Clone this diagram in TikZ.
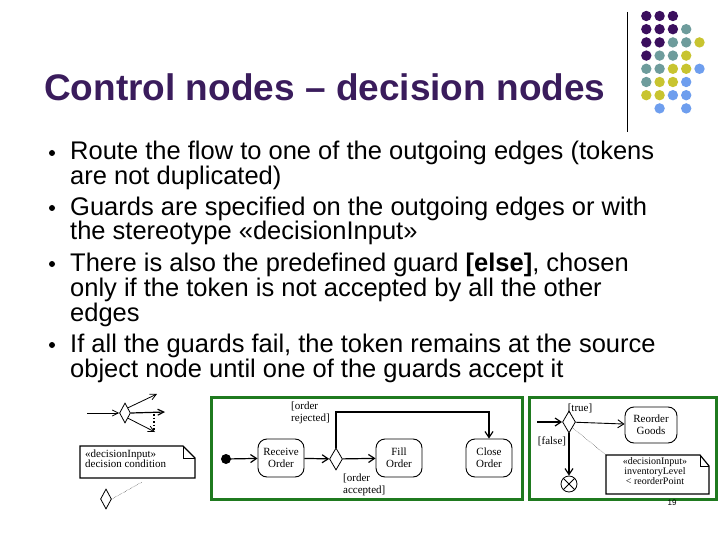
\documentclass[tikz,border=0pt]{standalone}
\usepackage{fontspec}
\setmainfont{Liberation Sans}
\newfontfamily\serifx{Liberation Serif}
\usetikzlibrary{shapes.geometric,arrows.meta}
\definecolor{tpurple}{HTML}{3A1C5C}
\definecolor{dP}{HTML}{3B0F5E}
\definecolor{dT}{HTML}{6E9C9C}
\definecolor{dY}{HTML}{C8C430}
\definecolor{dB}{HTML}{6E9EEE}
\definecolor{gbox}{HTML}{1F7A1F}
\tikzset{
 txt/.style={anchor=base west,inner sep=0,font=\fontsize{25.5}{25}\selectfont},
 bul/.style={circle,fill=black,inner sep=0,minimum size=6},
 act/.style={draw,rounded corners=9,line width=0.9,minimum width=46,minimum height=38,align=center,font=\serifx\fontsize{11}{12}\selectfont},
 dec/.style={draw,diamond,aspect=0.6,inner sep=0,minimum width=13,minimum height=22,line width=0.8},
 lab/.style={font=\serifx\fontsize{11}{12}\selectfont,align=left,inner sep=0},
 fl/.style={line width=1.2,-{Straight Barb[length=6,width=8]}},
 gb/.style={draw=gbox,line width=3},
}
\begin{document}
\begin{tikzpicture}[x=1pt,y=-1pt]
\useasboundingbox (0,0) rectangle (720,540);
\node[anchor=base west,inner sep=0,text=tpurple,font=\bfseries\fontsize{37}{37}\selectfont] (title) at (44,101) {Control nodes -- decision nodes};
\draw (627,12) -- (627,132);
\foreach \r/\lst in {0/{1/dP,2/dP,3/dP},1/{1/dP,2/dP,3/dP,4/dT},2/{1/dP,2/dP,3/dT,4/dT,5/dY},3/{1/dP,2/dT,3/dT,4/dY},4/{1/dT,2/dT,3/dY,4/dY,5/dB},5/{1/dT,2/dY,3/dY,4/dB},6/{1/dY,2/dY,3/dB,4/dB},7/{2/dB,4/dB}}
  \foreach \c/\col in \lst
    \fill[\col] ({633+13.3*\c},{16+13.2*\r}) circle (5.2);
\foreach \y/\t in {160/{Route the flow to one of the outgoing edges (tokens},215/{Guards are specified on the outgoing edges or with},271/{There is also the predefined guard \textbf{[else]}, chosen},352/{If all the guards fail, the token remains at the source}}
  {\node[bul] at (52,\y-7) {}; \node[txt] at (70,\y) {\t};}
\foreach \y/\t in {185/{are not duplicated)},240/{the stereotype «decisionInput»},296/{only if the token is not accepted by all the other},321/{edges},377/{object node until one of the guards accept it}}
  \node[txt] at (70,\y) {\t};
% left small diagram
\node[dec,minimum width=11,minimum height=20] (d1) at (125,413) {};
\coordinate (s1) at (87,413);
\draw[line width=0.8,-{Straight Barb[length=6,width=6]}] (s1) -- (d1);
\coordinate (o1) at (157,394); \coordinate (o2) at (165,412); \coordinate (o3) at (155,432);
\draw[line width=0.8,-{Straight Barb[length=6,width=6]}] (d1.north east) -- (o1);
\draw[line width=1.2,-{Straight Barb[length=6,width=6]}] (d1.east) -- (o2);
\draw[line width=0.8,-{Straight Barb[length=6,width=6]}] (d1.south east) -- (o3);
\draw[line width=1.5,dotted] (154,414) -- (154,430);
\draw[line width=1.3] (80,446) -- (183,446) -- (195,458) -- (195,478) -- (80,478) -- cycle;
\draw[line width=0.8] (183,446) -- (183,458) -- (195,458);
\node[lab,anchor=north west] (note1) at (85,450) {«decisionInput»\\[-2pt]decision condition};
\node[dec,minimum width=11,minimum height=20] (d2) at (106,499) {};
\draw[densely dotted] (d2.east) -- (142,482);
% middle box
\draw[gb] (211,397) rectangle (522,499);
\fill (226,459) circle (5);
\coordinate (st) at (226,459);
\node[act] (ro) at (281,458) {Receive\\Order};
\node[dec] (dm) at (336,459) {};
\node[act] (fo) at (399,458) {Fill\\Order};
\node[act] (co) at (489,458) {Close\\Order};
\draw[fl] (st) -- (ro);
\draw[fl] (ro) -- (dm);
\draw[fl] (dm) -- (fo);
\draw[fl] (dm.north) -- (336,412) -- (489,412) -- (co.north);
\node[lab,anchor=north west] at (291,402) {[order\\rejected]};
\node[lab,anchor=north west] at (343,474) {[order\\accepted]};
% right box
\draw[gb] (529,397) rectangle (716,499);
\node[dec] (dr) at (569,422) {};
\coordinate (inr) at (537,422);
\draw[fl] (inr) -- (dr);
\node[act,minimum width=52,minimum height=36] (rg) at (651,425) {Reorder\\Goods};
\draw[line width=0.9,-{Straight Barb[length=6,width=8]}] (dr) -- (rg);
\node[lab] at (580,408) {[true]};
\node[draw,circle,line width=0.8,minimum size=16,inner sep=0] (fin) at (569,484) {};
\draw[line width=0.8] (fin.north west) -- (fin.south east) (fin.north east) -- (fin.south west);
\draw[fl] (dr) -- (fin);
\node[lab] at (552,441) {[false]};
\draw[line width=1.2] (606,455) -- (700,455) -- (709,466) -- (709,494) -- (606,494) -- cycle;
\draw[line width=0.8] (700,455) -- (700,466) -- (709,466);
\draw[densely dotted] (dr.south east) -- (606,455);
\node[lab,align=center,anchor=north,font=\serifx\fontsize{10}{10}\selectfont] (note2) at (655,457) {«decisionInput»\\inventoryLevel\\< reorderPoint};
\node[font=\fontsize{8}{8}\selectfont] (pg) at (672,503) {19};
\end{tikzpicture}
\end{document}
